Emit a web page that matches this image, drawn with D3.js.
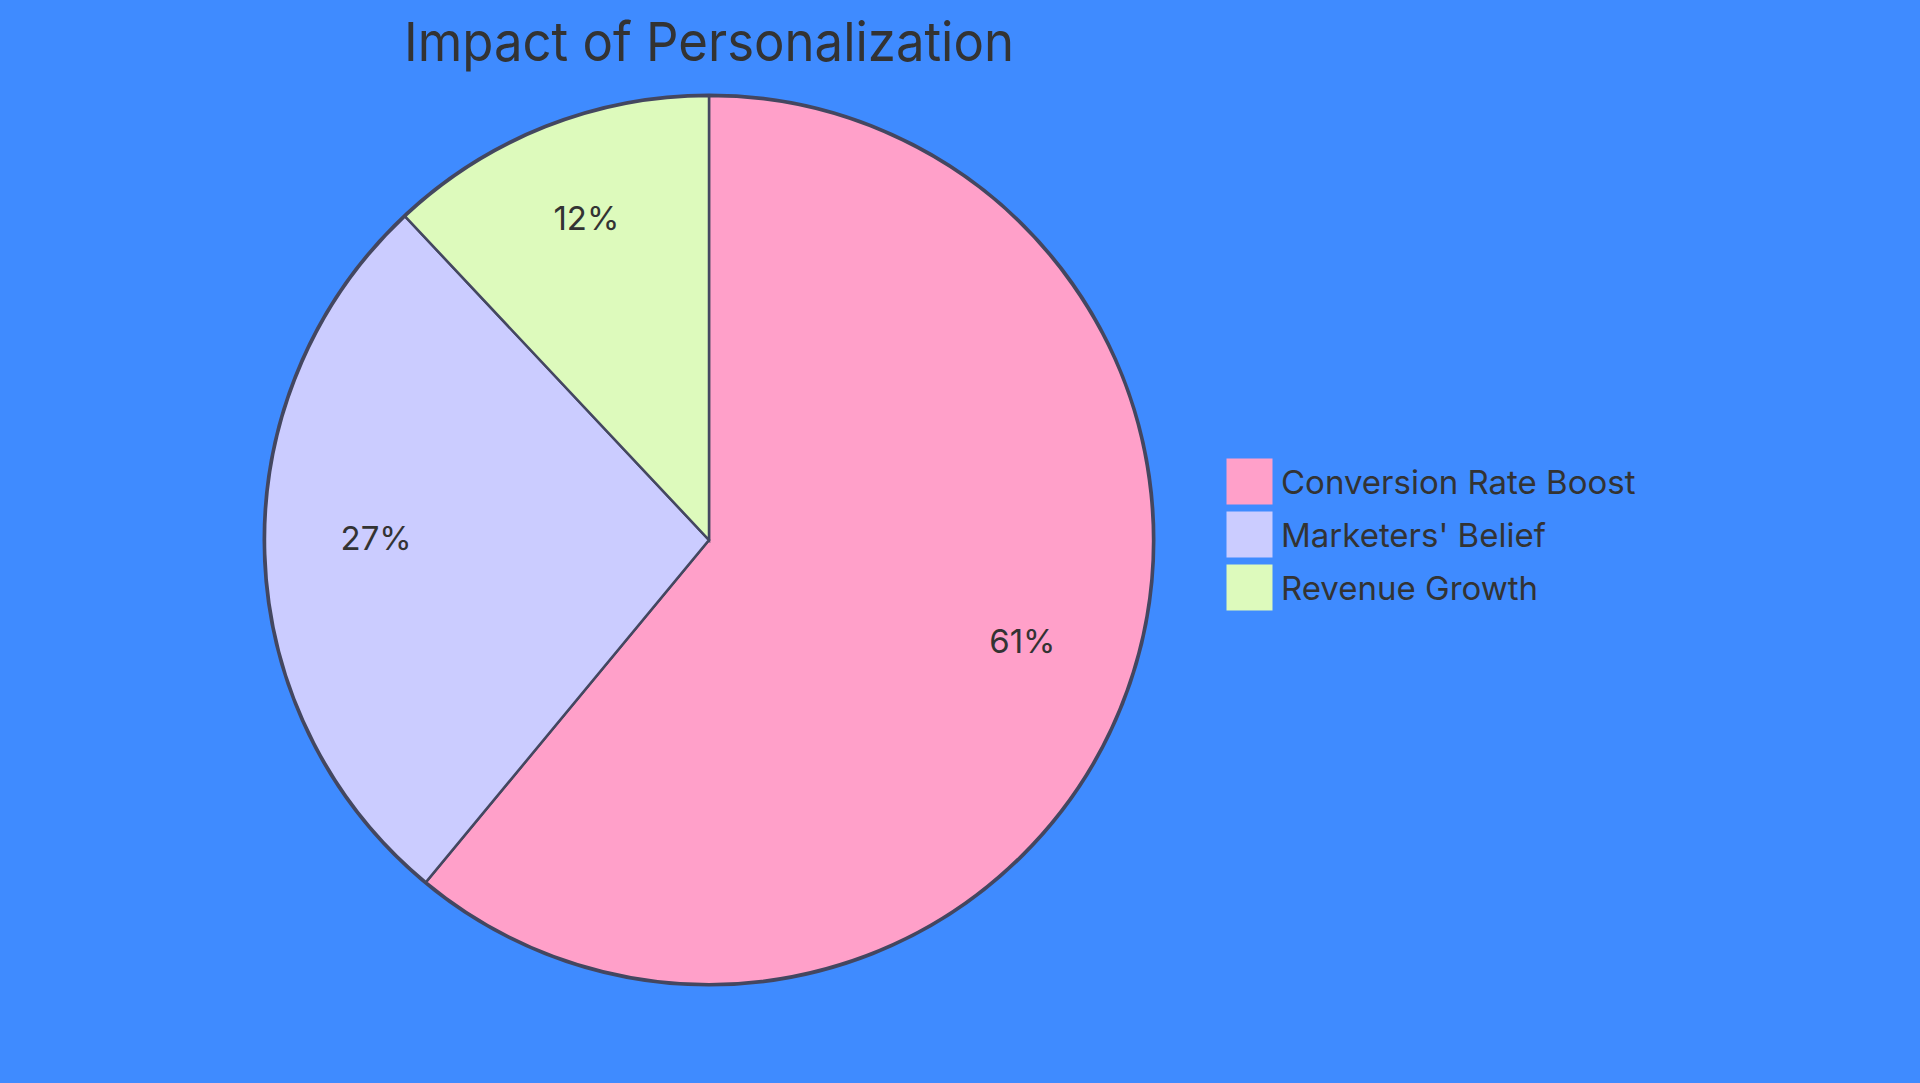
<!DOCTYPE html>
<html>
<head>
<meta charset="utf-8">
<script src="https://cdn.jsdelivr.net/npm/d3@7"></script>
<style>
  html, body { margin: 0; padding: 0; background: #3f8bff; overflow: hidden; }
  svg { display: block; }
  text { font-family: Inter, "Noto Sans", sans-serif; fill: #333333; }
</style>
</head>
<body>
<div id="chart"></div>
<script>
// chart data
const titleText = "Impact of Personalization";
const categories = ["Conversion Rate Boost", "Marketers' Belief", "Revenue Growth"];
const values = [61, 27, 12];
const colors = ["#ffa0c9", "#cbccff", "#ddfabc"];

const width = 1920, height = 1083;
const cx = 709, cy = 540, radius = 444;

const svg = d3.select("#chart").append("svg")
    .attr("width", width)
    .attr("height", height);

svg.append("rect")
    .attr("width", width)
    .attr("height", height)
    .attr("fill", "#3f8bff");

// Title
svg.append("text")
    .attr("x", cx)
    .attr("y", 61)
    .attr("text-anchor", "middle")
    .attr("font-size", 54)
    .attr("textLength", 610)
    .attr("lengthAdjust", "spacingAndGlyphs")
    .text(titleText);

const data = categories.map((c, i) => ({ name: c, value: values[i], color: colors[i] }));

const pie = d3.pie().sort(null).value(d => d.value);
const arcs = pie(data);
const total = d3.sum(values);

const arc = d3.arc().innerRadius(0).outerRadius(radius);
const labelArc = d3.arc().innerRadius(radius * 0.75).outerRadius(radius * 0.75);

const g = svg.append("g").attr("transform", `translate(${cx},${cy})`);

// outer ring
g.append("circle")
    .attr("r", radius)
    .attr("fill", "none")
    .attr("stroke", "#444760")
    .attr("stroke-width", 5);

g.selectAll("path.slice")
    .data(arcs)
    .enter().append("path")
    .attr("class", "slice")
    .attr("d", arc)
    .attr("fill", d => d.data.color)
    .attr("stroke", "#444760")
    .attr("stroke-width", 2.5);

g.selectAll("text.pct")
    .data(arcs)
    .enter().append("text")
    .attr("class", "pct")
    .attr("transform", d => `translate(${labelArc.centroid(d)})`)
    .attr("text-anchor", "middle")
    .attr("font-size", 33)
    .text(d => Math.round(d.data.value / total * 100) + "%");

// Legend
const legend = svg.append("g").attr("transform", "translate(1227,459)");
const rows = legend.selectAll("g.row")
    .data(data)
    .enter().append("g")
    .attr("class", "row")
    .attr("transform", (d, i) => `translate(0,${i * 53})`);

rows.append("rect")
    .attr("width", 45)
    .attr("height", 45)
    .attr("fill", d => d.color)
    .attr("stroke", d => d.color)
    .attr("stroke-width", 1);

rows.append("text")
    .attr("x", 54)
    .attr("y", 35)
    .attr("font-size", 33)
    .text(d => d.name);
</script>
</body>
</html>
